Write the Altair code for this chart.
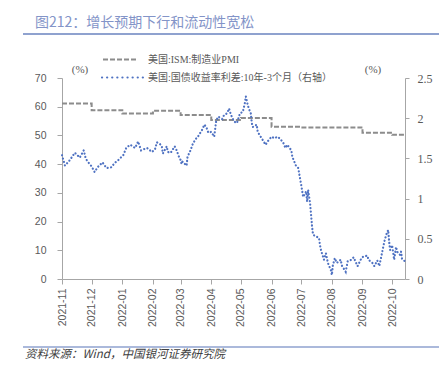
import altair as alt
import pandas as pd

# ---------------- data ----------------
pmi_dates = ["2021-11-01", "2021-12-01", "2022-01-01", "2022-02-01", "2022-03-01",
             "2022-04-01", "2022-05-01", "2022-06-01", "2022-07-01", "2022-08-01",
             "2022-09-01", "2022-10-01", "2022-10-14"]
pmi_values = [61.1, 58.8, 57.6, 58.6, 57.1, 55.4, 56.1, 53.0, 52.8, 52.8, 50.9, 50.2, 50.2]

spread_dates = [
    "2021-11-01", "2021-11-04", "2021-11-09", "2021-11-14", "2021-11-19", "2021-11-23",
    "2021-11-25", "2021-11-27", "2021-12-01", "2021-12-04", "2021-12-07", "2021-12-12",
    "2021-12-16", "2021-12-21", "2021-12-24", "2021-12-28", "2022-01-02", "2022-01-05",
    "2022-01-09", "2022-01-14", "2022-01-17", "2022-01-20", "2022-01-26", "2022-01-31",
    "2022-02-03", "2022-02-05", "2022-02-08", "2022-02-10", "2022-02-11", "2022-02-15",
    "2022-02-16", "2022-02-19", "2022-02-23", "2022-02-25", "2022-02-27", "2022-03-01",
    "2022-03-02", "2022-03-03", "2022-03-07", "2022-03-08", "2022-03-11", "2022-03-13",
    "2022-03-16", "2022-03-18", "2022-03-21", "2022-03-23", "2022-03-25", "2022-03-27",
    "2022-03-29", "2022-04-01", "2022-04-04", "2022-04-06", "2022-04-08", "2022-04-12",
    "2022-04-14", "2022-04-17", "2022-04-19", "2022-04-21", "2022-04-24", "2022-04-27",
    "2022-04-30", "2022-05-03", "2022-05-05", "2022-05-06", "2022-05-08", "2022-05-09",
    "2022-05-11", "2022-05-12", "2022-05-13", "2022-05-17", "2022-05-18", "2022-05-20",
    "2022-05-23", "2022-05-26", "2022-05-28", "2022-06-01", "2022-06-04", "2022-06-07",
    "2022-06-10", "2022-06-13", "2022-06-15", "2022-06-17", "2022-06-21", "2022-06-22",
    "2022-06-24", "2022-06-26", "2022-06-28", "2022-07-01", "2022-07-03", "2022-07-06",
    "2022-07-07", "2022-07-08", "2022-07-10", "2022-07-11", "2022-07-12", "2022-07-13",
    "2022-07-16", "2022-07-19", "2022-07-20", "2022-07-21", "2022-07-24", "2022-07-26",
    "2022-07-28", "2022-07-31", "2022-08-01", "2022-08-02", "2022-08-04", "2022-08-06",
    "2022-08-10", "2022-08-11", "2022-08-15", "2022-08-17", "2022-08-21", "2022-08-23",
    "2022-08-27", "2022-08-31", "2022-09-02", "2022-09-06", "2022-09-07", "2022-09-11",
    "2022-09-13", "2022-09-16", "2022-09-18", "2022-09-21", "2022-09-23", "2022-09-25",
    "2022-09-27", "2022-09-28", "2022-09-29", "2022-10-01", "2022-10-03", "2022-10-05",
    "2022-10-06", "2022-10-09", "2022-10-10", "2022-10-11", "2022-10-14"]
spread_values = [
    1.54, 1.41, 1.48, 1.57, 1.51, 1.60,
    1.50, 1.46, 1.40, 1.33, 1.39, 1.45,
    1.38, 1.39, 1.44, 1.48, 1.54, 1.63,
    1.67, 1.63, 1.71, 1.60, 1.63, 1.58,
    1.61, 1.70, 1.68, 1.65, 1.56, 1.65,
    1.58, 1.57, 1.65, 1.60, 1.53, 1.48,
    1.43, 1.46, 1.41, 1.52, 1.60, 1.67,
    1.74, 1.76, 1.82, 1.86, 1.92, 1.89,
    1.82, 1.83, 1.77, 1.97, 2.02, 1.99,
    2.04, 2.06, 2.12, 2.04, 1.96, 1.94,
    2.06, 2.08, 2.19, 2.27, 2.16, 2.12,
    2.06, 1.94, 1.89, 1.92, 1.83, 1.79,
    1.73, 1.67, 1.71, 1.77, 1.75, 1.77,
    1.74, 1.69, 1.63, 1.67, 1.60, 1.52,
    1.46, 1.40, 1.38, 1.17, 1.02, 1.09,
    0.96, 1.11, 0.94, 0.80, 0.65, 0.55,
    0.53, 0.51, 0.42, 0.36, 0.24, 0.32,
    0.20, 0.11, 0.05, 0.17, 0.26, 0.20,
    0.24, 0.17, 0.09, 0.22, 0.24, 0.27,
    0.16, 0.26, 0.28, 0.29, 0.24, 0.20,
    0.16, 0.23, 0.16, 0.34, 0.46, 0.55,
    0.61, 0.46, 0.36, 0.42, 0.24, 0.40,
    0.34, 0.30, 0.34, 0.25, 0.22]

tick_months = [(2021, 11), (2021, 12), (2022, 1), (2022, 2), (2022, 3), (2022, 4),
               (2022, 5), (2022, 6), (2022, 7), (2022, 8), (2022, 9), (2022, 10)]
left_ticks = [0, 10, 20, 30, 40, 50, 60, 70]
right_ticks = [0, 0.5, 1, 1.5, 2, 2.5]

title_text = "图212：增长预期下行和流动性宽松"
source_text = "资料来源：Wind，中国银河证券研究院"
legend_pmi = "美国:ISM:制造业PMI"
legend_spread = "美国:国债收益率利差:10年-3个月（右轴）"
unit_text = "(%)"

# ---------------- styling ----------------
GRAY_AX = "#a6a6a6"
LABEL = "#595959"
PMI_C = "#8c8c8c"
SPR_C = "#4f72c2"
TITLE_C = "#8394c8"
LINE_C = "#8fa2cf"
SANS = "Liberation Sans"
SERIF_CJK = "Liberation Serif, Noto Sans CJK SC"

pmi_df = pd.DataFrame({"date": pmi_dates, "pmi": pmi_values})
spr_df = pd.DataFrame({"date": spread_dates, "spread": spread_values})

x_axis = alt.Axis(
    title=None, format="%Y-%m",
    values=[alt.DateTime(year=y, month=m, date=1, utc=True) for y, m in tick_months],
    labelAngle=270, labelAlign="right", labelBaseline="middle",
    labelFont=SANS, labelFontSize=10.5, labelColor=LABEL, labelPadding=4,
    domainColor=GRAY_AX, tickColor=GRAY_AX, tickSize=5, grid=False,
    labelOverlap=False, labelFlush=False, labelBound=False)
x_scale = alt.Scale(type="utc", domain=[alt.DateTime(year=2021, month=11, date=1, utc=True),
                                        alt.DateTime(year=2022, month=10, date=14, utc=True)])

pmi_line = alt.Chart(pmi_df).mark_line(
    interpolate="step-after", color=PMI_C, strokeWidth=2, strokeDash=[5, 2]
).encode(
    x=alt.X("date:T", scale=x_scale, axis=x_axis),
    y=alt.Y("pmi:Q", scale=alt.Scale(domain=[0, 70]),
            axis=alt.Axis(title=None, orient="left", values=left_ticks, grid=False,
                          domainColor=GRAY_AX, tickColor=GRAY_AX, tickSize=5,
                          labelFont=SANS, labelFontSize=10.5, labelColor=LABEL,
                          labelPadding=11)),
)

spr_line = alt.Chart(spr_df).mark_line(
    color=SPR_C, strokeWidth=2.2, strokeDash=[0.1, 3.4], strokeCap="round"
).encode(
    x=alt.X("date:T", scale=x_scale, axis=x_axis),
    y=alt.Y("spread:Q", scale=alt.Scale(domain=[0, 2.5]),
            axis=alt.Axis(title=None, orient="right", values=right_ticks, format=".1~f",
                          grid=False, domainColor=GRAY_AX, tickColor=GRAY_AX, tickSize=4,
                          labelFont="Liberation Serif", labelFontSize=12,
                          labelColor=LABEL, labelPadding=8)),
)

one = pd.DataFrame({"k": [0]})


def txt(s, x, y, size, color, font, align="left", style=None):
    kw = dict(text=s, align=align, baseline="middle", fontSize=size, color=color, font=font)
    if style:
        kw["fontStyle"] = style
    return alt.Chart(one).mark_text(**kw).encode(x=alt.value(x), y=alt.value(y))


def hrule(x1, x2, y, color, width, dash=None, cap=None):
    kw = dict(color=color, strokeWidth=width)
    if dash:
        kw["strokeDash"] = dash
    if cap:
        kw["strokeCap"] = cap
    return alt.Chart(one).mark_rule(**kw).encode(x=alt.value(x1), x2=alt.value(x2), y=alt.value(y))


annotations = [
    txt(title_text, -27, -55, 14, TITLE_C, "Noto Sans CJK SC"),
    hrule(-39, 400, -44, LINE_C, 2),
    hrule(-39, 400, 269, LINE_C, 1.5),
    txt(source_text, -37, 276.5, 11.5, "#404040", "Noto Sans CJK SC", style="italic"),
    hrule(41, 76, -18.5, PMI_C, 2, dash=[5, 2]),
    txt(legend_pmi, 86, -18.5, 10, LABEL, SERIF_CJK),
    hrule(40, 81, -0.5, SPR_C, 2.2, dash=[0.1, 5], cap="round"),
    txt(legend_spread, 86, -0.5, 10, LABEL, SERIF_CJK),
    txt(unit_text, 18, -8, 11, LABEL, "Liberation Serif", align="center"),
    txt(unit_text, 311, -8, 11, LABEL, "Liberation Serif", align="center"),
]

chart = alt.layer(pmi_line, spr_line, *annotations).resolve_scale(
    y="independent"
).properties(
    width=343, height=201,
    autosize=alt.AutoSizeParams(type="none"),
    padding={"left": 54, "top": 70, "right": 34, "bottom": 82},
).configure_view(stroke=None)

chart.save("out.html", embed_options={"renderer": "svg", "actions": False})
